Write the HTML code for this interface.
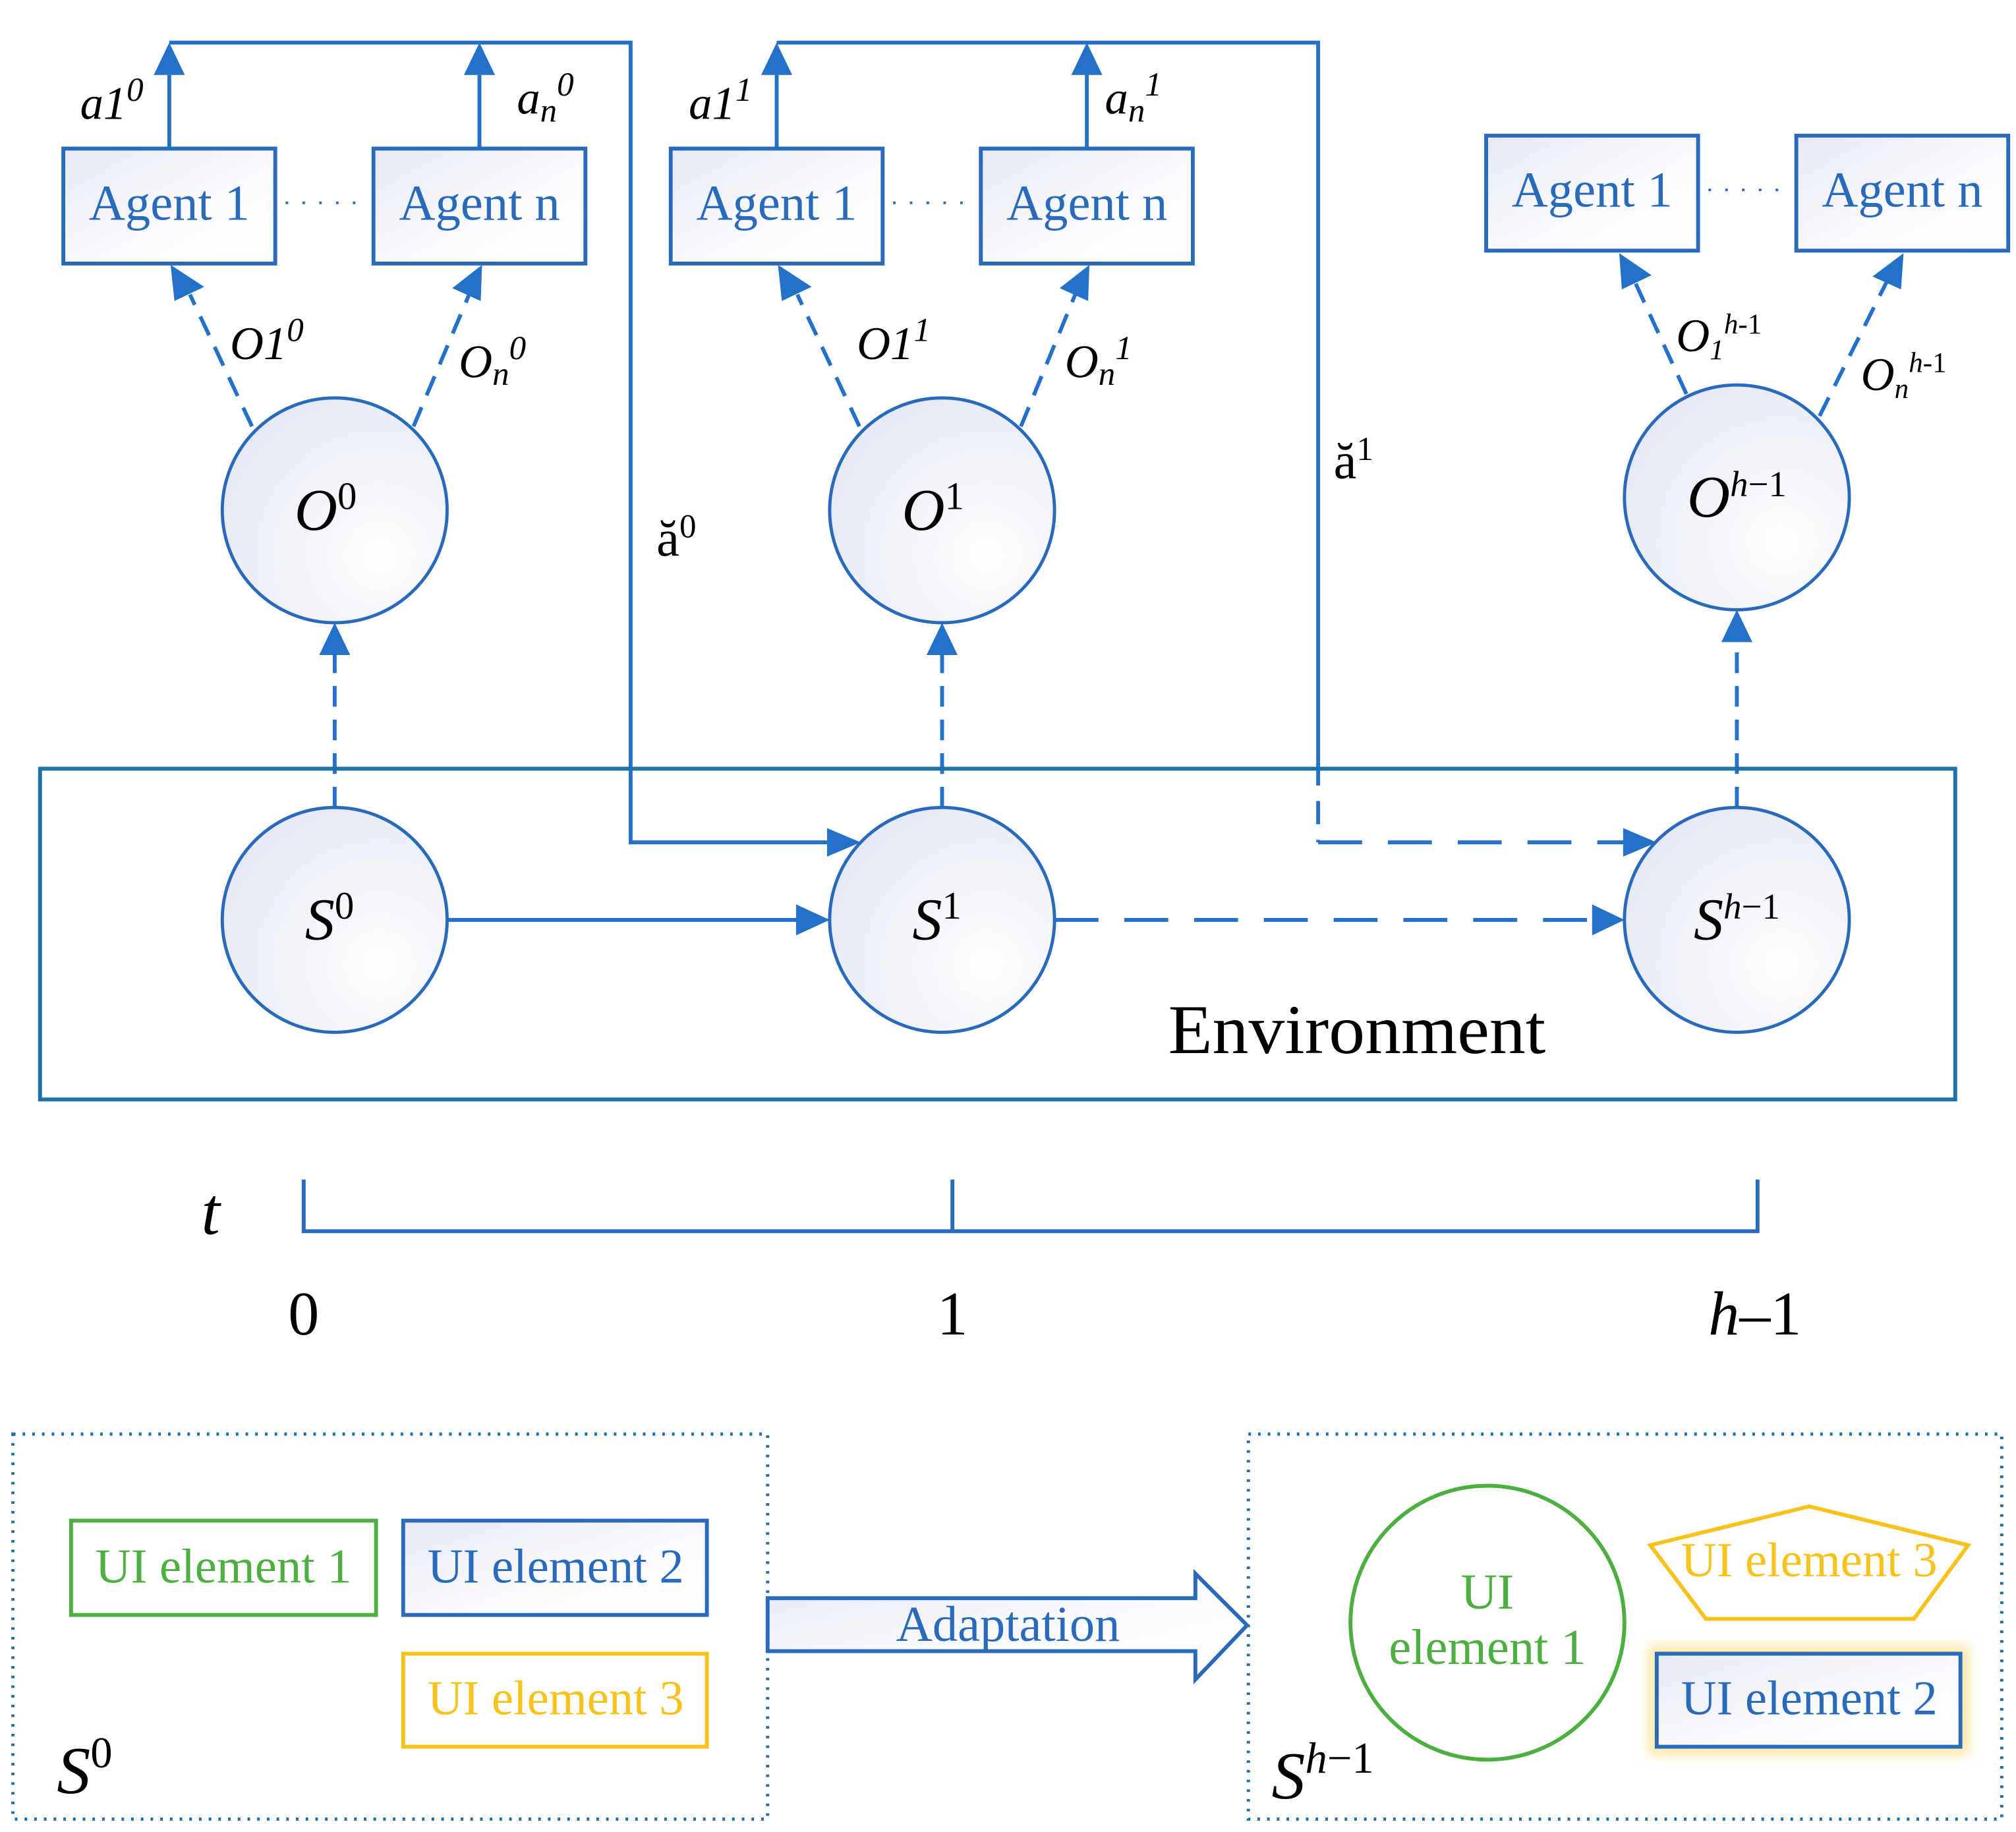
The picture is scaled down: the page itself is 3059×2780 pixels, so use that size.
<!DOCTYPE html>
<html><head><meta charset="utf-8"><style>
html,body{margin:0;padding:0;background:#fff;}
svg{display:block;}
text{font-family:"Liberation Serif",serif;}
</style></head><body>
<svg width="3059" height="2780" viewBox="0 0 1560 1418" preserveAspectRatio="none" xmlns="http://www.w3.org/2000/svg">
<defs>
<linearGradient id="g" x1="0" y1="0" x2="1" y2="1"><stop offset="0" stop-color="#e6e9f4"/><stop offset="0.6" stop-color="#fbfcfe"/><stop offset="1" stop-color="#ffffff"/></linearGradient>
<radialGradient id="rg" cx="0.7" cy="0.7" r="0.8"><stop offset="0" stop-color="#ffffff"/><stop offset="1" stop-color="#e4e8f3"/></radialGradient>
<filter id="glow" x="-20%" y="-40%" width="140%" height="180%"><feGaussianBlur stdDeviation="5"/></filter>
</defs>
<g stroke="#2371c8" stroke-width="3" fill="none">
<polyline points="131,33 488,33 488,652 640,652"/>
<polyline points="601,33 1020,33 1020,590"/>
<line x1="131" y1="115" x2="131" y2="58"/><line x1="371" y1="115" x2="371" y2="58"/>
<line x1="601" y1="115" x2="601" y2="58"/><line x1="841" y1="115" x2="841" y2="58"/>
<line x1="1020" y1="590" x2="1020" y2="652" stroke-dasharray="18,12"/>
<line x1="1020" y1="652" x2="1258" y2="652" stroke-dasharray="34,20"/>
<line x1="346" y1="712" x2="618" y2="712"/>
<line x1="816" y1="712" x2="1234" y2="712" stroke-dasharray="34,20"/>
<line x1="259" y1="625" x2="259" y2="505" stroke-dasharray="16,10"/>
<line x1="729" y1="625" x2="729" y2="505" stroke-dasharray="16,10"/>
<line x1="1344" y1="625" x2="1344" y2="495" stroke-dasharray="16,10"/>
<line x1="195" y1="330" x2="147" y2="228" stroke-dasharray="16,10"/>
<line x1="320" y1="330" x2="363" y2="228" stroke-dasharray="16,10"/>
<line x1="665" y1="330" x2="617" y2="228" stroke-dasharray="16,10"/>
<line x1="790" y1="330" x2="832" y2="228" stroke-dasharray="16,10"/>
<line x1="1305" y1="305" x2="1265" y2="218" stroke-dasharray="16,10"/>
<line x1="1408" y1="322" x2="1460" y2="218" stroke-dasharray="16,10"/>
</g>
<g fill="#2371c8">
<path d="M131,33L119,58L143,58z"/><path d="M371,33L359,58L383,58z"/>
<path d="M601,33L589,58L613,58z"/><path d="M841,33L829,58L853,58z"/>
<path d="M666,652L640,641L640,663z"/>
<path d="M1282,652L1256,641L1256,663z"/>
<path d="M642,712L616,700L616,724z"/>
<path d="M1257,712L1232,700L1232,724z"/>
<path d="M259,482L247,507L271,507z"/><path d="M729,482L717,507L741,507z"/><path d="M1344,472L1332,497L1356,497z"/>
<path d="M132,205L135,233L158,222z"/><path d="M373,205L350,223L372,233z"/>
<path d="M602,205L605,233L628,222z"/><path d="M843,205L820,223L842,233z"/>
<path d="M1253,196L1255,224L1278,213z"/><path d="M1473,196L1449,214L1471,224z"/>
</g>
<g stroke="#2a6abb" stroke-width="3" fill="url(#g)">
<rect x="49" y="115" width="164" height="89"/><rect x="289" y="115" width="164" height="89"/>
<rect x="519" y="115" width="164" height="89"/><rect x="759" y="115" width="164" height="89"/>
<rect x="1150" y="105" width="164" height="89"/><rect x="1390" y="105" width="164" height="89"/>
</g>
<g fill="#2a6abb" font-size="39" text-anchor="middle">
<text x="131" y="170">Agent 1</text><text x="371" y="170">Agent n</text>
<text x="601" y="170">Agent 1</text><text x="841" y="170">Agent n</text>
<text x="1232" y="160">Agent 1</text><text x="1472" y="160">Agent n</text>
</g>
<g stroke="#2a6abb" stroke-width="2" stroke-dasharray="2,11">
<line x1="221" y1="157" x2="283" y2="157"/><line x1="691" y1="157" x2="753" y2="157"/><line x1="1322" y1="147" x2="1384" y2="147"/>
</g>
<rect x="31" y="595" width="1482" height="256" fill="none" stroke="#1f6fa8" stroke-width="3"/>
<g stroke="#2a6abb" stroke-width="2.5" fill="url(#rg)">
<circle cx="259" cy="395" r="87"/><circle cx="729" cy="395" r="87"/><circle cx="1344" cy="385" r="87"/>
<circle cx="259" cy="712" r="87"/><circle cx="729" cy="712" r="87"/><circle cx="1344" cy="712" r="87"/>
</g>
<g fill="#000" font-style="italic" font-size="46" text-anchor="middle">
<text x="252" y="410">O<tspan font-style="normal" font-size="30" dy="-16">0</tspan></text>
<text x="722" y="410">O<tspan font-style="normal" font-size="30" dy="-16">1</tspan></text>
<text x="1344" y="400">O<tspan font-size="28" dy="-16">h</tspan><tspan font-style="normal" font-size="28">−1</tspan></text>
<text x="255" y="727">S<tspan font-style="normal" font-size="30" dy="-16">0</tspan></text>
<text x="725" y="727">S<tspan font-style="normal" font-size="30" dy="-16">1</tspan></text>
<text x="1344" y="727">S<tspan font-size="28" dy="-16">h</tspan><tspan font-style="normal" font-size="28">−1</tspan></text>
</g>
<g fill="#000" font-style="italic" font-size="36">
<text x="62" y="92">a1<tspan font-size="26" dy="-14">0</tspan></text>
<text x="400" y="88">a<tspan font-size="26" dy="6">n</tspan><tspan font-size="26" dy="-20">0</tspan></text>
<text x="533" y="92">a1<tspan font-size="26" dy="-14">1</tspan></text>
<text x="855" y="88">a<tspan font-size="26" dy="6">n</tspan><tspan font-size="26" dy="-20">1</tspan></text>
<text x="178" y="278">O1<tspan font-size="26" dy="-14">0</tspan></text>
<text x="355" y="292">O<tspan font-size="26" dy="6">n</tspan><tspan font-size="26" dy="-20">0</tspan></text>
<text x="663" y="278">O1<tspan font-size="26" dy="-14">1</tspan></text>
<text x="824" y="292">O<tspan font-size="26" dy="6">n</tspan><tspan font-size="26" dy="-20">1</tspan></text>
<text x="1297" y="272">O<tspan font-size="22" dy="6">1</tspan><tspan font-size="22" dy="-20">h</tspan><tspan font-style="normal" font-size="22">-1</tspan></text>
<text x="1440" y="302">O<tspan font-size="22" dy="6">n</tspan><tspan font-size="22" dy="-20">h</tspan><tspan font-style="normal" font-size="22">-1</tspan></text>
</g>
<g fill="#000" font-size="40">
<text x="508" y="430">ă<tspan font-size="26" dy="-14">0</tspan></text>
<text x="1032" y="370">ă<tspan font-size="26" dy="-14">1</tspan></text>
<text x="904" y="815" font-size="54" textLength="292" lengthAdjust="spacingAndGlyphs">Environment</text>
</g>
<polyline points="235,913 235,953 1360,953 1360,913" fill="none" stroke="#2a6abb" stroke-width="3"/>
<line x1="737" y1="913" x2="737" y2="953" stroke="#2a6abb" stroke-width="3"/>
<g fill="#000" font-size="48" text-anchor="middle">
<text x="163" y="955" font-style="italic" font-size="52">t</text>
<text x="235" y="1033">0</text><text x="737" y="1033">1</text>
<text x="1358" y="1033"><tspan font-style="italic">h</tspan>–1</text>
</g>
<g fill="none" stroke="#1f6fa8" stroke-width="2.5" stroke-dasharray="2,5.5">
<rect x="10" y="1110" width="584" height="298"/><rect x="966" y="1110" width="583" height="298"/>
</g>
<rect x="55" y="1177" width="236" height="73" fill="none" stroke="#4caf3f" stroke-width="3"/>
<rect x="312" y="1177" width="235" height="73" fill="url(#g)" stroke="#2a6abb" stroke-width="3"/>
<rect x="312" y="1280" width="235" height="72" fill="none" stroke="#f8c21c" stroke-width="3"/>
<g font-size="38" text-anchor="middle">
<text x="173" y="1225" fill="#4caf3f">UI element 1</text>
<text x="430" y="1225" fill="#2a6abb">UI element 2</text>
<text x="430" y="1327" fill="#f8c21c">UI element 3</text>
</g>
<path d="M594,1237L925,1237L925,1218L965,1258L925,1300L925,1278L594,1278Z" fill="url(#g)" stroke="#2a6abb" stroke-width="3"/>
<text x="780" y="1270" font-size="39" fill="#2a6abb" text-anchor="middle">Adaptation</text>
<circle cx="1151" cy="1256" r="106" fill="none" stroke="#4caf3f" stroke-width="3"/>
<text x="1151" y="1245" font-size="39" fill="#4caf3f" text-anchor="middle">UI</text>
<text x="1151" y="1288" font-size="39" fill="#4caf3f" text-anchor="middle">element 1</text>
<polygon points="1400,1166 1523,1196 1481,1253 1320,1253 1277,1196" fill="none" stroke="#f8c21c" stroke-width="3"/>
<text x="1400" y="1220" font-size="38" fill="#f8c21c" text-anchor="middle">UI element 3</text>
<rect x="1276" y="1274" width="247" height="84" fill="#fde59a" filter="url(#glow)"/>
<rect x="1282" y="1280" width="235" height="72" fill="url(#g)" stroke="#2a6abb" stroke-width="3"/>
<text x="1400" y="1327" font-size="38" fill="#2a6abb" text-anchor="middle">UI element 2</text>
<g fill="#000" font-size="52" font-style="italic">
<text x="44" y="1388">S<tspan font-style="normal" font-size="34" dy="-20">0</tspan></text>
<text x="984" y="1392">S<tspan font-size="34" dy="-20">h</tspan><tspan font-style="normal" font-size="34">−1</tspan></text>
</g>
</svg>
</body></html>
